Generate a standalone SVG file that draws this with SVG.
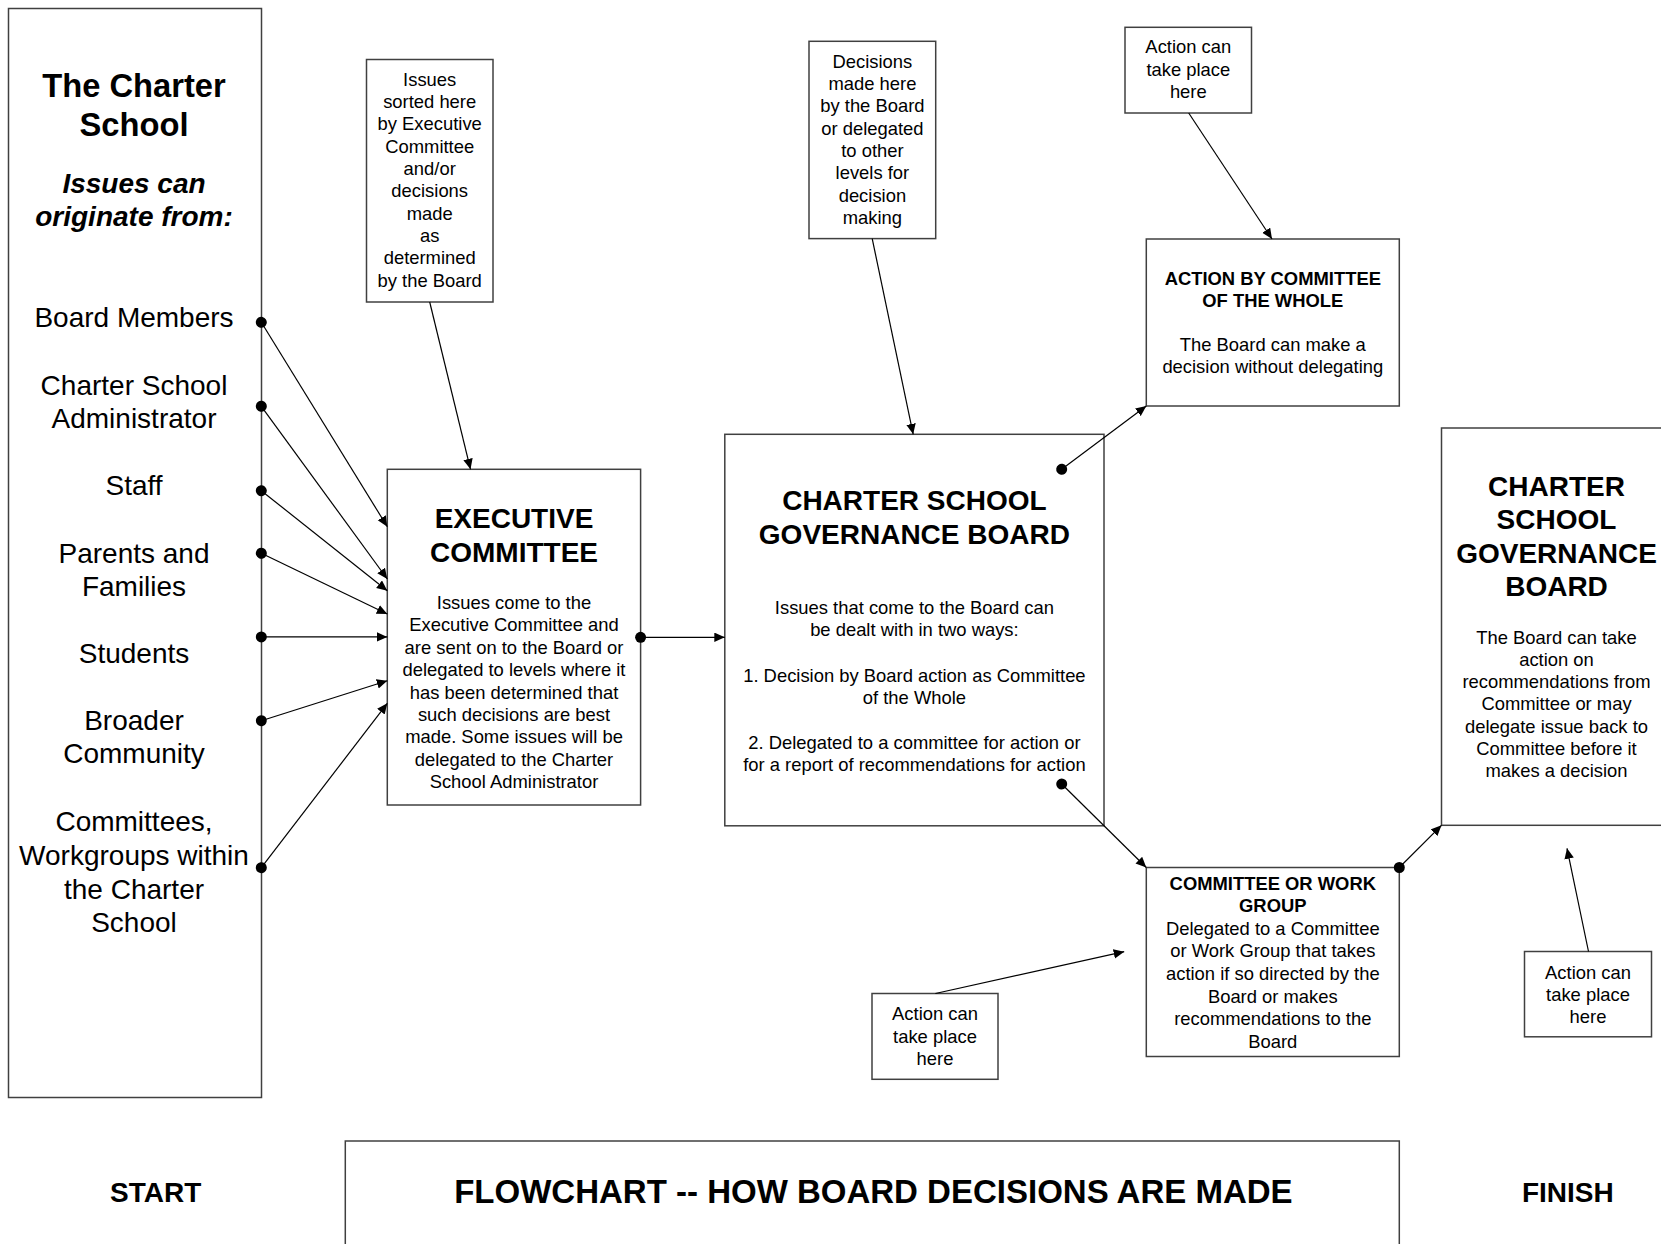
<svg xmlns="http://www.w3.org/2000/svg" width="1661" height="1244" viewBox="0 0 1661 1244">
<style>
  .box { fill: #ffffff; stroke: #404040; stroke-width: 1.5; }
  .conn { fill: none; stroke: #000000; stroke-width: 1.2; }
  text { font-family: "Liberation Sans", Arial, sans-serif; fill: #000000; text-anchor: middle; }
  .big { font-size: 28px; }
  .bigb { font-size: 28px; font-weight: bold; }
  .ttl { font-size: 32.7px; font-weight: bold; }
  .foot { font-size: 33px; font-weight: bold; }
  .bi { font-size: 28px; font-weight: bold; font-style: italic; }
  .sm { font-size: 18.4px; }
  .smb { font-size: 18.4px; font-weight: bold; }
</style>
<defs>
  <marker id="arrow" markerUnits="userSpaceOnUse" markerWidth="11" markerHeight="10" refX="10.5" refY="4.75" orient="auto">
    <path d="M0,0 L10.5,4.75 L0,9.5 z" fill="#000000"/>
  </marker>
  <marker id="dot" markerUnits="userSpaceOnUse" markerWidth="12" markerHeight="12" refX="6" refY="6" orient="auto">
    <circle cx="6" cy="6" r="5.5" fill="#000000"/>
  </marker>
</defs>
<rect width="1661" height="1244" fill="#ffffff"/>

<g id="origin">
  <rect class="box" x="8.5" y="8.5" width="253" height="1089"/>
  <text class="ttl" x="134" y="96.5">The Charter</text>
  <text class="ttl" x="134" y="135.5">School</text>
  <text class="bi" x="134" y="193">Issues can</text>
  <text class="bi" x="134" y="226">originate from:</text>
  <text class="big" x="134" y="327">Board Members</text>
  <text class="big" x="134" y="394.5">Charter School</text>
  <text class="big" x="134" y="428">Administrator</text>
  <text class="big" x="134" y="495">Staff</text>
  <text class="big" x="134" y="563">Parents and</text>
  <text class="big" x="134" y="596">Families</text>
  <text class="big" x="134" y="663">Students</text>
  <text class="big" x="134" y="730">Broader</text>
  <text class="big" x="134" y="763">Community</text>
  <text class="big" x="134" y="831">Committees,</text>
  <text class="big" x="134" y="865">Workgroups within</text>
  <text class="big" x="134" y="898.5">the Charter</text>
  <text class="big" x="134" y="932">School</text>
</g>

<g id="note-sorted">
  <rect class="box" x="366.5" y="59.5" width="126.5" height="242.5"/>
  <text class="sm" x="429.7" y="86">Issues</text>
  <text class="sm" x="429.7" y="108.2">sorted here</text>
  <text class="sm" x="429.7" y="130.4">by Executive</text>
  <text class="sm" x="429.7" y="152.6">Committee</text>
  <text class="sm" x="429.7" y="174.8">and/or</text>
  <text class="sm" x="429.7" y="197.2">decisions</text>
  <text class="sm" x="429.7" y="219.6">made</text>
  <text class="sm" x="429.7" y="242">as</text>
  <text class="sm" x="429.7" y="264.4">determined</text>
  <text class="sm" x="429.7" y="286.8">by the Board</text>
</g>

<g id="executive">
  <rect class="box" x="387.3" y="469.3" width="253.3" height="335.7"/>
  <text class="bigb" x="514" y="527.5">EXECUTIVE</text>
  <text class="bigb" x="514" y="562">COMMITTEE</text>
  <text class="sm" x="514" y="609">Issues come to the</text>
  <text class="sm" x="514" y="631.4">Executive Committee and</text>
  <text class="sm" x="514" y="653.8">are sent on to the Board or</text>
  <text class="sm" x="514" y="676.2">delegated to levels where it</text>
  <text class="sm" x="514" y="698.6">has been determined that</text>
  <text class="sm" x="514" y="721">such decisions are best</text>
  <text class="sm" x="514" y="743.4">made. Some issues will be</text>
  <text class="sm" x="514" y="765.8">delegated to the Charter</text>
  <text class="sm" x="514" y="788">School Administrator</text>
</g>

<g id="note-decisions">
  <rect class="box" x="809" y="41.3" width="126.7" height="197.3"/>
  <text class="sm" x="872.4" y="67.5">Decisions</text>
  <text class="sm" x="872.4" y="89.8">made here</text>
  <text class="sm" x="872.4" y="112.1">by the Board</text>
  <text class="sm" x="872.4" y="134.6">or delegated</text>
  <text class="sm" x="872.4" y="156.9">to other</text>
  <text class="sm" x="872.4" y="179.2">levels for</text>
  <text class="sm" x="872.4" y="201.6">decision</text>
  <text class="sm" x="872.4" y="223.9">making</text>
</g>

<g id="board">
  <rect class="box" x="724.8" y="434.3" width="379.2" height="391.5"/>
  <text class="bigb" x="914.4" y="510">CHARTER SCHOOL</text>
  <text class="bigb" x="914.4" y="544">GOVERNANCE BOARD</text>
  <text class="sm" x="914.4" y="614">Issues that come to the Board can</text>
  <text class="sm" x="914.4" y="636">be dealt with in two ways:</text>
  <text class="sm" x="914.4" y="681.5">1. Decision by Board action as Committee</text>
  <text class="sm" x="914.4" y="703.5">of the Whole</text>
  <text class="sm" x="914.4" y="748.5">2. Delegated to a committee for action or</text>
  <text class="sm" x="914.4" y="770.8">for a report of recommendations for action</text>
</g>

<g id="note-action-top">
  <rect class="box" x="1125" y="27.3" width="126.5" height="85.7"/>
  <text class="sm" x="1188.3" y="53.3">Action can</text>
  <text class="sm" x="1188.3" y="75.5">take place</text>
  <text class="sm" x="1188.3" y="98">here</text>
</g>

<g id="committee-whole">
  <rect class="box" x="1146.3" y="239" width="253" height="167"/>
  <text class="smb" x="1272.8" y="284.5">ACTION BY COMMITTEE</text>
  <text class="smb" x="1272.8" y="306.5">OF THE WHOLE</text>
  <text class="sm" x="1272.8" y="350.5">The Board can make a</text>
  <text class="sm" x="1272.8" y="372.5">decision without delegating</text>
</g>

<g id="work-group">
  <rect class="box" x="1146.3" y="867.5" width="253" height="189"/>
  <text class="smb" x="1272.8" y="889.5">COMMITTEE OR WORK</text>
  <text class="smb" x="1272.8" y="912.1">GROUP</text>
  <text class="sm" x="1272.8" y="934.7">Delegated to a Committee</text>
  <text class="sm" x="1272.8" y="957.3">or Work Group that takes</text>
  <text class="sm" x="1272.8" y="979.9">action if so directed by the</text>
  <text class="sm" x="1272.8" y="1002.5">Board or makes</text>
  <text class="sm" x="1272.8" y="1025.1">recommendations to the</text>
  <text class="sm" x="1272.8" y="1047.7">Board</text>
</g>

<g id="note-action-left">
  <rect class="box" x="872" y="993.5" width="126" height="85.8"/>
  <text class="sm" x="935" y="1020.3">Action can</text>
  <text class="sm" x="935" y="1042.5">take place</text>
  <text class="sm" x="935" y="1064.9">here</text>
</g>

<g id="board-final">
  <rect class="box" x="1441.5" y="428" width="240" height="397.3"/>
  <text class="bigb" x="1556.5" y="496">CHARTER</text>
  <text class="bigb" x="1556.5" y="529.3">SCHOOL</text>
  <text class="bigb" x="1556.5" y="562.8">GOVERNANCE</text>
  <text class="bigb" x="1556.5" y="596">BOARD</text>
  <text class="sm" x="1556.5" y="643.5">The Board can take</text>
  <text class="sm" x="1556.5" y="665.8">action on</text>
  <text class="sm" x="1556.5" y="688.1">recommendations from</text>
  <text class="sm" x="1556.5" y="710.4">Committee or may</text>
  <text class="sm" x="1556.5" y="732.7">delegate issue back to</text>
  <text class="sm" x="1556.5" y="755">Committee before it</text>
  <text class="sm" x="1556.5" y="777.3">makes a decision</text>
</g>

<g id="note-action-right">
  <rect class="box" x="1524.5" y="951.5" width="127" height="85.3"/>
  <text class="sm" x="1588" y="979">Action can</text>
  <text class="sm" x="1588" y="1001.2">take place</text>
  <text class="sm" x="1588" y="1023.4">here</text>
</g>

<g id="footer">
  <text class="bigb" x="155.7" y="1202">START</text>
  <rect class="box" x="345.3" y="1141" width="1054" height="200"/>
  <text class="foot" x="873.4" y="1203">FLOWCHART -- HOW BOARD DECISIONS ARE MADE</text>
  <text class="bigb" x="1567.8" y="1202">FINISH</text>
</g>

<g id="connectors">
  <line class="conn" x1="261.3" y1="322.3" x2="387.3" y2="526.7" marker-start="url(#dot)" marker-end="url(#arrow)"/>
  <line class="conn" x1="261.3" y1="406.3" x2="387.3" y2="579" marker-start="url(#dot)" marker-end="url(#arrow)"/>
  <line class="conn" x1="261.3" y1="490.7" x2="387.3" y2="590.7" marker-start="url(#dot)" marker-end="url(#arrow)"/>
  <line class="conn" x1="261.3" y1="553.3" x2="387.3" y2="614" marker-start="url(#dot)" marker-end="url(#arrow)"/>
  <line class="conn" x1="261.3" y1="636.9" x2="387.3" y2="636.9" marker-start="url(#dot)" marker-end="url(#arrow)"/>
  <line class="conn" x1="261.3" y1="720.7" x2="387.3" y2="680.7" marker-start="url(#dot)" marker-end="url(#arrow)"/>
  <line class="conn" x1="261.3" y1="867.7" x2="387.3" y2="703.3" marker-start="url(#dot)" marker-end="url(#arrow)"/>
  <line class="conn" x1="429.7" y1="302" x2="470.5" y2="469.3" marker-end="url(#arrow)"/>
  <line class="conn" x1="640.6" y1="637.3" x2="724.8" y2="637.3" marker-start="url(#dot)" marker-end="url(#arrow)"/>
  <line class="conn" x1="872.2" y1="238.6" x2="913.2" y2="434.3" marker-end="url(#arrow)"/>
  <line class="conn" x1="1188.7" y1="113" x2="1272" y2="239" marker-end="url(#arrow)"/>
  <line class="conn" x1="1061.7" y1="469.3" x2="1146.3" y2="406" marker-start="url(#dot)" marker-end="url(#arrow)"/>
  <line class="conn" x1="1061.7" y1="784" x2="1146.3" y2="867.5" marker-start="url(#dot)" marker-end="url(#arrow)"/>
  <line class="conn" x1="1399.3" y1="867.5" x2="1441.5" y2="825.3" marker-start="url(#dot)" marker-end="url(#arrow)"/>
  <line class="conn" x1="935.4" y1="993.5" x2="1124.2" y2="951.7" marker-end="url(#arrow)"/>
  <line class="conn" x1="1588.5" y1="951.5" x2="1567" y2="848.3" marker-end="url(#arrow)"/>
</g>
</svg>
